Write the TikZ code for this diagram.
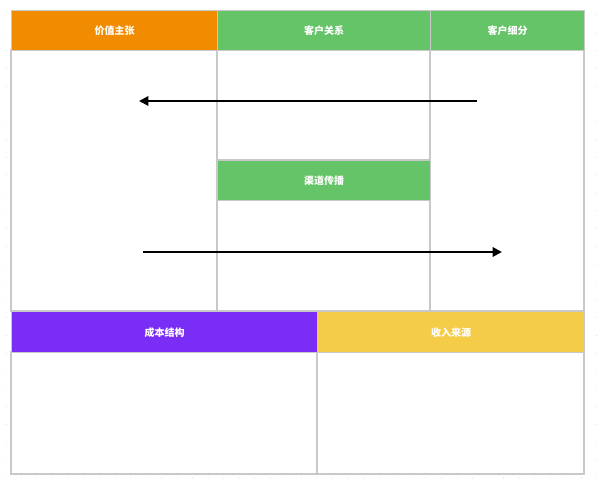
\documentclass[tikz,border=0pt]{standalone}
\usepackage{fontspec}
\newfontfamily\cjk{Noto Sans CJK SC}
\usetikzlibrary{arrows.meta}
\definecolor{hdorange}{RGB}{241,140,0}
\definecolor{hdgreen}{RGB}{102,196,104}
\definecolor{hdpurple}{RGB}{122,46,245}
\definecolor{hdyellow}{RGB}{244,204,72}
\definecolor{frame}{RGB}{200,200,200}
\definecolor{dotc}{RGB}{205,205,205}
\tikzset{
  cell/.style={draw=frame, line width=1.1pt, fill=white},
  hdr/.style={draw=frame, line width=1.1pt, inner sep=0pt, text=white,
     font=\cjk\bfseries\fontsize{7.5pt}{9pt}\selectfont},
  flow/.style={line width=1.5pt, -{Triangle[length=7pt,width=7pt]}}
}
\begin{document}
\begin{tikzpicture}[x=0.75pt,y=-0.75pt]
\useasboundingbox (0,0) rectangle (600,484);
\fill[white] (0,0) rectangle (600,484);
% background dot grid
\foreach \i in {0,...,38}{
  \foreach \j in {0,...,27}{
    \fill[dotc] ({6+15.55*\i},{15+17.8*\j}) circle (0.45);
  }
}
% body cells
\draw[cell] (11,50) rectangle (217,311);
\draw[cell] (217,50) rectangle (430,160);
\draw[cell] (217,200) rectangle (430,311);
\draw[cell] (430,50) rectangle (584,311);
\draw[cell] (11,352) rectangle (317,474);
\draw[cell] (317,352) rectangle (584,474);
% headers
\node[hdr, fill=hdorange, minimum width=206*0.75pt, minimum height=40*0.75pt, anchor=north west] (vp) at (11,10) {价值主张};
\node[hdr, fill=hdgreen, minimum width=213*0.75pt, minimum height=40*0.75pt, anchor=north west] (cr) at (217,10) {客户关系};
\node[hdr, fill=hdgreen, minimum width=154*0.75pt, minimum height=40*0.75pt, anchor=north west] (cs) at (430,10) {客户细分};
\node[hdr, fill=hdgreen, minimum width=213*0.75pt, minimum height=40*0.75pt, anchor=north west] (ch) at (217,160) {渠道传播};
\node[hdr, fill=hdpurple, minimum width=306*0.75pt, minimum height=41*0.75pt, anchor=north west] (cost) at (11,311) {成本结构};
\node[hdr, fill=hdyellow, minimum width=267*0.75pt, minimum height=41*0.75pt, anchor=north west] (rev) at (317,311) {收入来源};
% arrows
\coordinate (a1s) at (477,101);
\coordinate (a1e) at (139,101);
\coordinate (a2s) at (143,252);
\coordinate (a2e) at (502,252);
\draw[flow] (a1s) -- (a1e);
\draw[flow] (a2s) -- (a2e);
\end{tikzpicture}
\end{document}
